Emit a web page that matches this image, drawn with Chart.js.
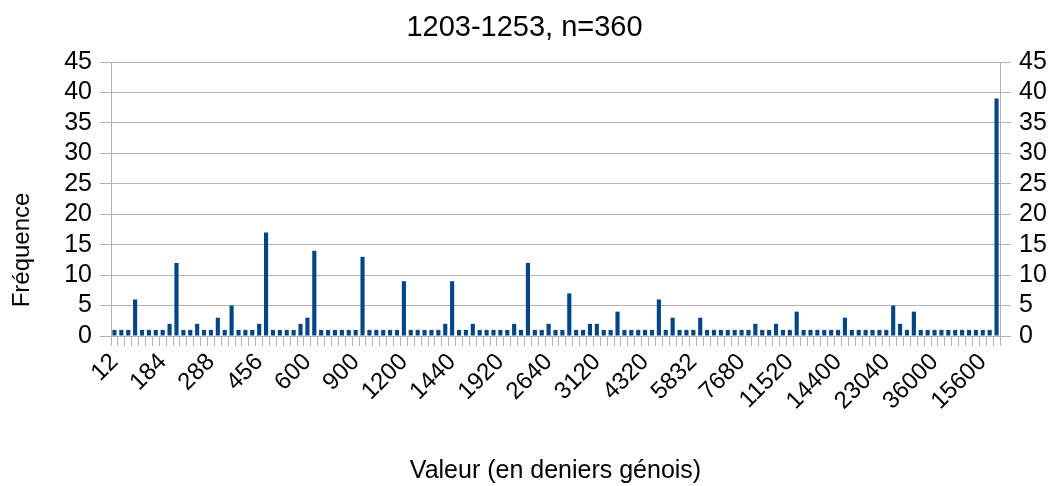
<!DOCTYPE html>
<html>
<head>
<meta charset="utf-8">
<script src="https://cdn.jsdelivr.net/npm/chart.js@4/dist/chart.umd.min.js"></script>
<style>
  body { margin: 0; background: #fff; }
</style>
</head>
<body>
<canvas id="chart" width="1049" height="486"></canvas>
<script>
// frequencies per value (deniers), left to right
const frequencies = [
  1, 1, 1, 6, 1, 1, 1, 1, 2, 12,
  1, 1, 2, 1, 1, 3, 1, 5, 1, 1,
  1, 2, 17, 1, 1, 1, 1, 2, 3, 14,
  1, 1, 1, 1, 1, 1, 13, 1, 1, 1,
  1, 1, 9, 1, 1, 1, 1, 1, 2, 9,
  1, 1, 2, 1, 1, 1, 1, 1, 2, 1,
  12, 1, 1, 2, 1, 1, 7, 1, 1, 2,
  2, 1, 1, 4, 1, 1, 1, 1, 1, 6,
  1, 3, 1, 1, 1, 3, 1, 1, 1, 1,
  1, 1, 1, 2, 1, 1, 2, 1, 1, 4,
  1, 1, 1, 1, 1, 1, 3, 1, 1, 1,
  1, 1, 1, 5, 2, 1, 4, 1, 1, 1,
  1, 1, 1, 1, 1, 1, 1, 1, 39
];

// only every 7th category label is shown in the original
const tickLabels = ['12', '184', '288', '456', '600', '900', '1200', '1440', '1920', '2640',
  '3120', '4320', '5832', '7680', '11520', '14400', '23040', '36000', '15600'];
const labelStep = 7;

const categories = frequencies.map((v, i) => (i % labelStep === 0 ? tickLabels[i / labelStep] : ''));

const FONT = 'Liberation Sans, Arial, sans-serif';
const GRID = '#b3b3b3';

Chart.defaults.color = '#000';
Chart.defaults.font.family = FONT;

// y axis title is centred lower than chart.js would put it, so draw it by hand
const yTitle = {
  id: 'yTitle',
  afterDraw(chart) {
    const ctx = chart.ctx;
    ctx.save();
    ctx.translate(22, chart.chartArea.top + 188);
    ctx.rotate(-Math.PI / 2);
    ctx.font = '24px ' + FONT;
    ctx.fillStyle = '#000';
    ctx.textAlign = 'center';
    ctx.textBaseline = 'middle';
    ctx.fillText('Fréquence', 0, 0);
    ctx.restore();
  }
};

new Chart(document.getElementById('chart'), {
  type: 'bar',
  data: {
    labels: categories,
    datasets: [{
      label: 'Fréquence',
      data: frequencies,
      backgroundColor: '#004586',
      categoryPercentage: 1,
      barPercentage: 0.6,
      yAxisID: 'y'
    }]
  },
  options: {
    responsive: false,
    animation: false,
    layout: { padding: 0 },
    plugins: {
      legend: { display: false },
      tooltip: { enabled: false },
      title: {
        display: true,
        text: '1203-1253, n=360',
        font: { size: 29, weight: 'normal' },
        color: '#000',
        padding: { top: 10.5, bottom: 16.7 }
      }
    },
    scales: {
      x: {
        grid: { display: true, drawOnChartArea: false, color: GRID, tickLength: 10 },
        border: { color: GRID },
        ticks: {
          autoSkip: false,
          minRotation: 45,
          maxRotation: 45,
          padding: 2,
          font: { size: 24 }
        },
        title: {
          display: true,
          text: 'Valeur (en deniers génois)',
          font: { size: 25 },
          padding: { top: 0, bottom: 0 }
        },
        afterFit: s => { s.height = 150; }
      },
      y: {
        position: 'left',
        min: 0,
        max: 45,
        ticks: { stepSize: 5, autoSkip: false, padding: 8, font: { size: 25 } },
        grid: { color: GRID, tickLength: 11 },
        border: { color: GRID },
        afterFit: s => { s.width = 111; }
      },
      y2: {
        position: 'right',
        min: 0,
        max: 45,
        ticks: { stepSize: 5, autoSkip: false, padding: 8, font: { size: 25 } },
        grid: { drawOnChartArea: false, color: GRID, tickLength: 11 },
        border: { color: GRID },
        afterFit: s => { s.width = 49; }
      }
    }
  },
  plugins: [yTitle]
});
</script>
</body>
</html>
